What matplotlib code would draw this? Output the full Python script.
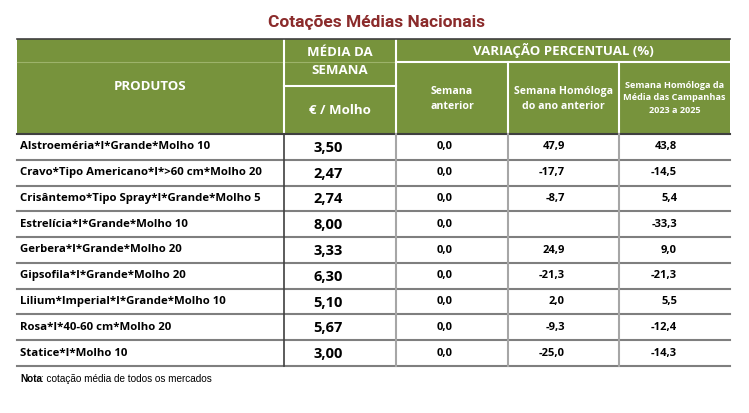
import matplotlib.pyplot as plt

# table data
produtos = ["Alstroeméria*I*Grande*Molho 10",
            "Cravo*Tipo Americano*I*>60 cm*Molho 20",
            "Crisântemo*Tipo Spray*I*Grande*Molho 5",
            "Estrelícia*I*Grande*Molho 10",
            "Gerbera*I*Grande*Molho 20",
            "Gipsofila*I*Grande*Molho 20",
            "Lilium*Imperial*I*Grande*Molho 10",
            "Rosa*I*40-60 cm*Molho 20",
            "Statice*I*Molho 10"]
media_semana = [3.50, 2.47, 2.74, 8.00, 3.33, 6.30, 5.10, 5.67, 3.00]
var_semana_anterior = [0.0, 0.0, 0.0, 0.0, 0.0, 0.0, 0.0, 0.0, 0.0]
var_ano_anterior = [47.9, -17.7, -8.7, None, 24.9, -21.3, 2.0, -9.3, -25.0]
var_campanhas = [43.8, -14.5, 5.4, -33.3, 9.0, -21.3, 5.5, -12.4, -14.3]

GREEN = "#77933C"
FONT = "Open Sans"

def fmt(v, nd):
    if v is None:
        return ""
    return f"{v:.{nd}f}".replace(".", ",")

fig = plt.figure(figsize=(7.49, 4.13), dpi=100)
ax = fig.add_axes([0, 0, 1, 1])
ax.set_xlim(0, 749)
ax.set_ylim(413, 0)
ax.axis("off")

# column edges and row geometry (pixels)
x0, x1, x2, x3, x4, x5 = 17, 284, 396, 508, 619, 730
top, sub, head_bot = 39, 62, 134
row_h = (366 - head_bot) / len(produtos)

ax.text(376, 22, "Cotações Médias Nacionais", ha="center", va="center",
        fontsize=12.5, fontweight="bold", color="#8B2B2B", family="Roboto")

# header block
ax.add_patch(plt.Rectangle((x0, top), x5 - x0, head_bot - top, color=GREEN, lw=0))
ax.plot([x0, x2], [sub, sub], color="#9DB36A", lw=0.8)
for x in (x1, x2):
    ax.plot([x, x], [top, head_bot], color="white", lw=1.5)
for x in (x3, x4):
    ax.plot([x, x], [sub, head_bot], color="white", lw=1.5)
ax.plot([x2, x5], [sub, sub], color="white", lw=1.5)
ax.plot([x1, x2], [86, 86], color="white", lw=1.5)
ax.plot([x0, x5], [top, top], color="#404040", lw=1.2)

hk = dict(color="white", fontweight="bold", family=FONT, ha="center", va="center")
ax.text((x0 + x1) / 2, 86, "PRODUTOS", fontsize=9.5, **hk)
ax.text((x1 + x2) / 2, 62, "MÉDIA DA\nSEMANA", fontsize=9.5, linespacing=1.5, **hk)
ax.text((x1 + x2) / 2, 111, "€ / Molho", fontsize=9.5, **hk)
ax.text((x2 + x5) / 2, 50, "VARIAÇÃO PERCENTUAL (%)", fontsize=9.5, **hk)
ax.text((x2 + x3) / 2, 99, "Semana\nanterior", fontsize=7.6, linespacing=1.45, **hk)
ax.text((x3 + x4) / 2, 99, "Semana Homóloga\ndo ano anterior", fontsize=7.6, linespacing=1.45, **hk)
ax.text((x4 + x5) / 2, 98, "Semana Homóloga da\nMédia das Campanhas\n2023 a 2025",
        fontsize=6.6, linespacing=1.5, **hk)

# body rows
for i, prod in enumerate(produtos):
    yt = head_bot + i * row_h
    yc = yt + row_h / 2
    ax.plot([x0, x5], [yt + row_h, yt + row_h], color="#7F7F7F", lw=1.5)
    bk = dict(fontweight="bold", family=FONT, va="center", color="black")
    ax.text(20, yc, prod, ha="left", fontsize=8.2, **bk)
    ax.text(343, yc + 1, fmt(media_semana[i], 2), ha="right", fontsize=10.5, **bk)
    ax.text(453, yc, fmt(var_semana_anterior[i], 1), ha="right", fontsize=8, **bk)
    ax.text(565, yc, fmt(var_ano_anterior[i], 1), ha="right", fontsize=8, **bk)
    ax.text(677, yc, fmt(var_campanhas[i], 1), ha="right", fontsize=8, **bk)

ax.plot([x0, x5], [head_bot, head_bot], color="#404040", lw=1.5)
ax.plot([x1, x1], [head_bot, 366], color="#404040", lw=1.2)
for x in (x2, x3, x4):
    ax.plot([x, x], [head_bot, 366], color="#A6A6A6", lw=1.5)

ax.text(20, 379, "Nota", fontsize=7.2, fontweight="bold", family="Liberation Sans", va="center")
ax.text(41, 379, ": cotação média de todos os mercados", fontsize=7.2,
        family="Liberation Sans", va="center")

fig.savefig("out.png", dpi=100)
